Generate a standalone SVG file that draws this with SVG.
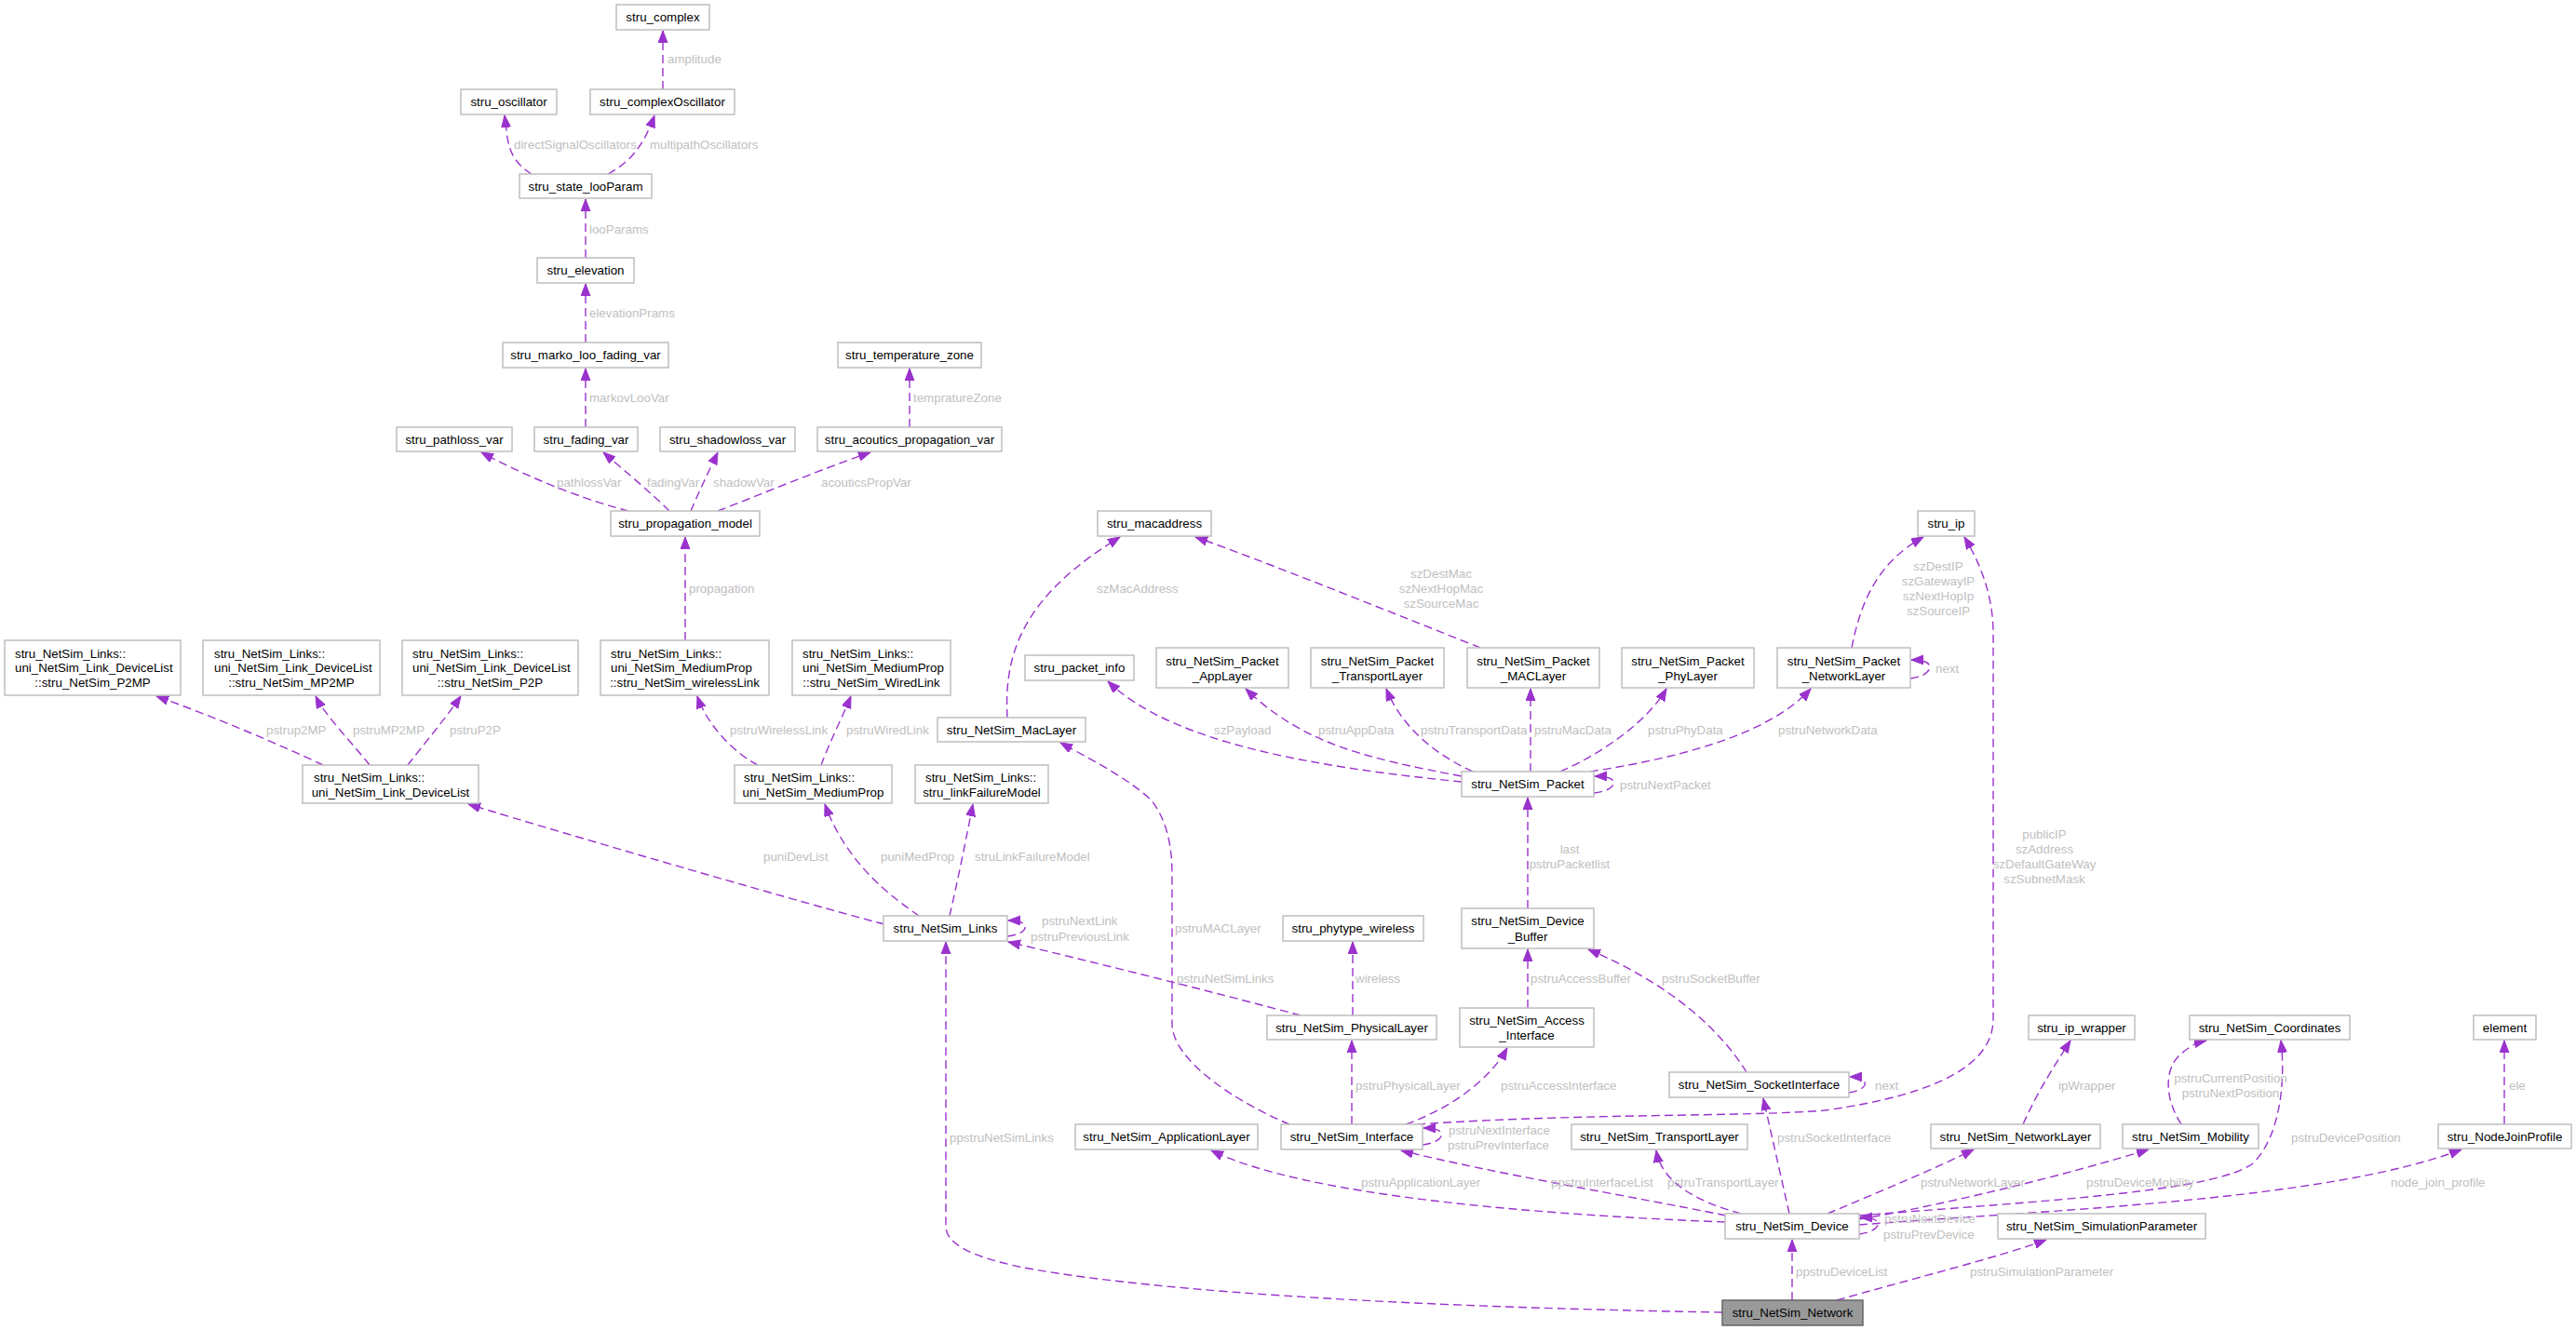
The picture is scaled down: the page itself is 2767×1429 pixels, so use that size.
<svg xmlns="http://www.w3.org/2000/svg" width="2767" height="1429" viewBox="0 0 2767 1429">
<style>
text{font-family:"Liberation Sans",Arial,sans-serif;font-size:13.33px}
.n rect{fill:#fff;stroke:#bfbfbf;stroke-width:1.5}
.n text{fill:#000}
.c{text-anchor:middle}
.r rect{fill:#999999;stroke:#666666;stroke-width:1.5}
.e path{fill:none;stroke:#9a32cd;stroke-width:1.4;stroke-dasharray:9,5;marker-end:url(#a)}
.l{fill:#c0c0c0}
</style>
<defs>
<marker id="a" markerUnits="userSpaceOnUse" markerWidth="14" markerHeight="11" refX="13" refY="5" orient="auto" viewBox="0 0 14 11">
<path d="M0,0 L13,5 L0,10 z" fill="#9a32cd" stroke="#9a32cd" stroke-width="1"/>
</marker>
</defs>
<rect width="2767" height="1429" fill="#fff"/>
<g id="edges" class="e">
<path d="M712,96 L712,33"/>
<path d="M571,187 C555,177 546,165 544,140 L542,124"/>
<path d="M653,187 C675,175 690,160 703,124"/>
<path d="M629,277 L629,214"/>
<path d="M629,368 L629,305"/>
<path d="M629,459 L629,396"/>
<path d="M977,459 L977,396"/>
<path d="M675,549 C640,540 580,520 517,486"/>
<path d="M719,549 C700,530 670,505 648,486"/>
<path d="M742,549 C750,530 762,505 771,486"/>
<path d="M771,549 C820,530 880,505 935,486"/>
<path d="M736,688 L736,577"/>
<path d="M814,822 C790,810 760,780 749,748"/>
<path d="M882,822 C890,800 905,770 914,748"/>
<path d="M347,822 C300,800 230,770 168,748"/>
<path d="M397,822 C380,800 350,770 339,748"/>
<path d="M438,822 C455,800 480,770 495,748"/>
<path d="M950,993 C880,975 620,900 503,864"/>
<path d="M987,984 C960,965 910,930 886,864"/>
<path d="M1020,984 C1028,950 1038,900 1045,864"/>
<path d="M1082,1006 C1098,1004 1104,998 1100,993 C1097,990 1092,989 1083,989"/>
<path d="M1397,1091 C1300,1065 1180,1035 1083,1012"/>
<path d="M1453,1091 L1453,1012"/>
<path d="M1385,1208 C1330,1185 1259,1140 1259,1100 L1259,940 C1259,905 1252,880 1237,860 C1210,835 1170,815 1139,798"/>
<path d="M1452,1208 L1452,1118"/>
<path d="M1510,1208 C1560,1190 1600,1160 1619,1126"/>
<path d="M1641,1083 L1641,1020"/>
<path d="M1641,976 L1641,857"/>
<path d="M1876,1152 C1850,1110 1800,1060 1706,1020"/>
<path d="M1986,1174 C2000,1172 2006,1166 2002,1161 C1999,1158 1994,1157 1987,1157"/>
<path d="M1528,1230 C1545,1228 1551,1221 1547,1216 C1544,1213 1538,1212 1529,1212"/>
<path d="M1522,1208 C1700,1196 1880,1200 1960,1193 C2090,1175 2141,1140 2141,1095 L2141,680 C2141,640 2127,605 2110,577"/>
<path d="M1570,840 C1420,825 1260,800 1190,732"/>
<path d="M1570,834 C1470,815 1400,800 1338,740"/>
<path d="M1582,829 C1540,810 1505,780 1489,740"/>
<path d="M1644,829 L1644,740"/>
<path d="M1676,829 C1720,810 1770,775 1790,740"/>
<path d="M1708,829 C1800,815 1900,790 1945,740"/>
<path d="M1712,852 C1730,850 1736,843 1732,838 C1729,835 1722,834 1713,834"/>
<path d="M2052,729 C2068,727 2075,720 2072,714 C2069,710 2062,709 2053,709"/>
<path d="M1989,696 C1998,650 2015,605 2066,577"/>
<path d="M1590,696 C1500,660 1350,600 1284,577"/>
<path d="M1082,771 C1078,700 1100,640 1203,577"/>
<path d="M1853,1313 C1650,1305 1400,1285 1301,1236"/>
<path d="M1854,1306 C1750,1285 1600,1260 1505,1236"/>
<path d="M1870,1304 C1820,1290 1785,1270 1779,1236"/>
<path d="M1922,1304 L1894,1180"/>
<path d="M1963,1304 C2020,1280 2080,1255 2120,1235"/>
<path d="M1997,1310 C2100,1292 2220,1262 2308,1235"/>
<path d="M1997,1306 C2200,1290 2380,1280 2420,1250 C2450,1220 2455,1160 2450,1118"/>
<path d="M1997,1316 C2200,1300 2500,1290 2644,1235"/>
<path d="M2343,1208 C2325,1180 2325,1150 2340,1135 C2350,1125 2360,1120 2370,1118"/>
<path d="M2173,1208 C2190,1170 2210,1140 2224,1118"/>
<path d="M2690,1208 L2690,1118"/>
<path d="M1997,1326 C2013,1324 2020,1317 2016,1312 C2013,1309 2006,1308 1998,1308"/>
<path d="M1925,1397 L1925,1332"/>
<path d="M1973,1397 C2050,1375 2150,1350 2198,1332"/>
<path d="M1850,1410 C1550,1405 1250,1390 1100,1362 C1040,1350 1016,1335 1016,1318 L1016,1012"/>
</g>
<g id="labels" class="l">
<text x="717" y="68">amplitude</text>
<text x="552" y="160">directSignalOscillators</text>
<text x="698" y="160">multipathOscillators</text>
<text x="633" y="251">looParams</text>
<text x="633" y="341">elevationPrams</text>
<text x="633" y="432">markovLooVar</text>
<text x="981" y="432">tempratureZone</text>
<text x="598" y="523">pathlossVar</text>
<text x="695" y="523">fadingVar</text>
<text x="766" y="523">shadowVar</text>
<text x="882" y="523">acouticsPropVar</text>
<text x="740" y="637">propagation</text>
<text x="784" y="789">pstruWirelessLink</text>
<text x="909" y="789">pstruWiredLink</text>
<text x="286" y="789">pstrup2MP</text>
<text x="379" y="789">pstruMP2MP</text>
<text x="483" y="789">pstruP2P</text>
<text x="820" y="925">puniDevList</text>
<text x="946" y="925">puniMedProp</text>
<text x="1047" y="925">struLinkFailureModel</text>
<text x="1119" y="994">pstruNextLink</text>
<text x="1107" y="1011">pstruPreviousLink</text>
<text x="1264" y="1056">pstruNetSimLinks</text>
<text x="1456" y="1056">wireless</text>
<text x="1262" y="1002">pstruMACLayer</text>
<text x="1456" y="1171">pstruPhysicalLayer</text>
<text x="1612" y="1171">pstruAccessInterface</text>
<text x="1644" y="1056">pstruAccessBuffer</text>
<text class="c" x="1686" y="917">last</text>
<text class="c" x="1686" y="933">pstruPacketlist</text>
<text x="1785" y="1056">pstruSocketBuffer</text>
<text x="2014" y="1171">next</text>
<text x="1556" y="1219">pstruNextInterface</text>
<text x="1555" y="1235">pstruPrevInterface</text>
<text class="c" x="2196" y="901">publicIP</text>
<text class="c" x="2196" y="917">szAddress</text>
<text class="c" x="2196" y="933">szDefaultGateWay</text>
<text class="c" x="2196" y="949">szSubnetMask</text>
<text x="1304" y="789">szPayload</text>
<text x="1416" y="789">pstruAppData</text>
<text x="1526" y="789">pstruTransportData</text>
<text x="1648" y="789">pstruMacData</text>
<text x="1770" y="789">pstruPhyData</text>
<text x="1910" y="789">pstruNetworkData</text>
<text x="1740" y="848">pstruNextPacket</text>
<text x="2079" y="723">next</text>
<text class="c" x="2082" y="613">szDestIP</text>
<text class="c" x="2082" y="629">szGatewayIP</text>
<text class="c" x="2082" y="645">szNextHopIp</text>
<text class="c" x="2082" y="661">szSourceIP</text>
<text class="c" x="1548" y="621">szDestMac</text>
<text class="c" x="1548" y="637">szNextHopMac</text>
<text class="c" x="1548" y="653">szSourceMac</text>
<text x="1178" y="637">szMacAddress</text>
<text x="1462" y="1275">pstruApplicationLayer</text>
<text x="1666" y="1275">ppstruInterfaceList</text>
<text x="1791" y="1275">pstruTransportLayer</text>
<text x="1909" y="1227">pstruSocketInterface</text>
<text x="2063" y="1275">pstruNetworkLayer</text>
<text x="2241" y="1275">pstruDeviceMobility</text>
<text x="2461" y="1227">pstruDevicePosition</text>
<text x="2568" y="1275">node_join_profile</text>
<text class="c" x="2396" y="1163">pstruCurrentPosition</text>
<text class="c" x="2396" y="1179">pstruNextPosition</text>
<text x="2211" y="1171">ipWrapper</text>
<text x="2695" y="1171">ele</text>
<text x="2024" y="1314">pstruNextDevice</text>
<text x="2023" y="1331">pstruPrevDevice</text>
<text x="1929" y="1371">ppstruDeviceList</text>
<text x="2116" y="1371">pstruSimulationParameter</text>
<text x="1020" y="1227">ppstruNetSimLinks</text>
</g>
<g id="n_complex" class="n"><rect x="662" y="5" width="100" height="27"/><text class="c" x="712" y="23">stru_complex</text></g>
<g id="n_oscillator" class="n"><rect x="495" y="96" width="103" height="27"/><text class="c" x="546.5" y="114">stru_oscillator</text></g>
<g id="n_complexOscillator" class="n"><rect x="634" y="96" width="155" height="27"/><text class="c" x="711.5" y="114">stru_complexOscillator</text></g>
<g id="n_state_looParam" class="n"><rect x="558" y="187" width="142" height="26"/><text class="c" x="629" y="205">stru_state_looParam</text></g>
<g id="n_elevation" class="n"><rect x="577" y="277" width="104" height="27"/><text class="c" x="629" y="295">stru_elevation</text></g>
<g id="n_marko" class="n"><rect x="540" y="368" width="178" height="27"/><text class="c" x="629" y="386">stru_marko_loo_fading_var</text></g>
<g id="n_temperature" class="n"><rect x="900" y="368" width="154" height="27"/><text class="c" x="977" y="386">stru_temperature_zone</text></g>
<g id="n_pathloss" class="n"><rect x="426" y="459" width="124" height="26"/><text class="c" x="488" y="477">stru_pathloss_var</text></g>
<g id="n_fading" class="n"><rect x="574" y="459" width="111" height="26"/><text class="c" x="629.5" y="477">stru_fading_var</text></g>
<g id="n_shadowloss" class="n"><rect x="709" y="459" width="145" height="26"/><text class="c" x="781.5" y="477">stru_shadowloss_var</text></g>
<g id="n_acoutics" class="n"><rect x="878" y="459" width="198" height="26"/><text class="c" x="977" y="477">stru_acoutics_propagation_var</text></g>
<g id="n_propagation" class="n"><rect x="656" y="549" width="160" height="27"/><text class="c" x="736" y="567">stru_propagation_model</text></g>
<g id="n_p2mp" class="n"><rect x="5" y="688" width="189" height="59"/><text x="16" y="707">stru_NetSim_Links::</text><text x="16" y="722">uni_NetSim_Link_DeviceList</text><text class="c" x="99.5" y="738">::stru_NetSim_P2MP</text></g>
<g id="n_mp2mp" class="n"><rect x="218" y="688" width="190" height="59"/><text x="230" y="707">stru_NetSim_Links::</text><text x="230" y="722">uni_NetSim_Link_DeviceList</text><text class="c" x="313" y="738">::stru_NetSim_MP2MP</text></g>
<g id="n_p2p" class="n"><rect x="432" y="688" width="189" height="59"/><text x="443" y="707">stru_NetSim_Links::</text><text x="443" y="722">uni_NetSim_Link_DeviceList</text><text class="c" x="526.5" y="738">::stru_NetSim_P2P</text></g>
<g id="n_wirelessLink" class="n"><rect x="645" y="688" width="181" height="59"/><text x="656" y="707">stru_NetSim_Links::</text><text x="656" y="722">uni_NetSim_MediumProp</text><text class="c" x="735.5" y="738">::stru_NetSim_wirelessLink</text></g>
<g id="n_wiredLink" class="n"><rect x="851" y="688" width="170" height="59"/><text x="862" y="707">stru_NetSim_Links::</text><text x="862" y="722">uni_NetSim_MediumProp</text><text class="c" x="936" y="738">::stru_NetSim_WiredLink</text></g>
<g id="n_deviceList" class="n"><rect x="325" y="822" width="189" height="41"/><text x="337" y="840">stru_NetSim_Links::</text><text class="c" x="419.5" y="856">uni_NetSim_Link_DeviceList</text></g>
<g id="n_mediumProp" class="n"><rect x="789" y="822" width="169" height="41"/><text x="799" y="840">stru_NetSim_Links::</text><text class="c" x="873.5" y="856">uni_NetSim_MediumProp</text></g>
<g id="n_linkFailure" class="n"><rect x="983" y="822" width="143" height="41"/><text x="994" y="840">stru_NetSim_Links::</text><text class="c" x="1054.5" y="856">stru_linkFailureModel</text></g>
<g id="n_macLayer" class="n"><rect x="1007" y="771" width="159" height="26"/><text class="c" x="1086.5" y="789">stru_NetSim_MacLayer</text></g>
<g id="n_macaddress" class="n"><rect x="1179" y="549" width="122" height="27"/><text class="c" x="1240" y="567">stru_macaddress</text></g>
<g id="n_packet_info" class="n"><rect x="1101" y="704" width="117" height="27"/><text class="c" x="1159.5" y="722">stru_packet_info</text></g>
<g id="n_pkt_app" class="n"><rect x="1242" y="696" width="142" height="43"/><text class="c" x="1313" y="715">stru_NetSim_Packet</text><text class="c" x="1313" y="731">_AppLayer</text></g>
<g id="n_pkt_transport" class="n"><rect x="1408" y="696" width="143" height="43"/><text class="c" x="1479.5" y="715">stru_NetSim_Packet</text><text class="c" x="1479.5" y="731">_TransportLayer</text></g>
<g id="n_pkt_mac" class="n"><rect x="1576" y="696" width="142" height="43"/><text class="c" x="1647" y="715">stru_NetSim_Packet</text><text class="c" x="1647" y="731">_MACLayer</text></g>
<g id="n_pkt_phy" class="n"><rect x="1742" y="696" width="142" height="43"/><text class="c" x="1813" y="715">stru_NetSim_Packet</text><text class="c" x="1813" y="731">_PhyLayer</text></g>
<g id="n_pkt_network" class="n"><rect x="1909" y="696" width="143" height="43"/><text class="c" x="1980.5" y="715">stru_NetSim_Packet</text><text class="c" x="1980.5" y="731">_NetworkLayer</text></g>
<g id="n_ip" class="n"><rect x="2060" y="549" width="61" height="27"/><text class="c" x="2090.5" y="567">stru_ip</text></g>
<g id="n_packet" class="n"><rect x="1570" y="829" width="142" height="27"/><text class="c" x="1641" y="847">stru_NetSim_Packet</text></g>
<g id="n_device_buffer" class="n"><rect x="1570" y="976" width="142" height="43"/><text class="c" x="1641" y="994">stru_NetSim_Device</text><text class="c" x="1641" y="1011">_Buffer</text></g>
<g id="n_links" class="n"><rect x="949" y="984" width="133" height="27"/><text class="c" x="1015.5" y="1002">stru_NetSim_Links</text></g>
<g id="n_phytype" class="n"><rect x="1378" y="984" width="151" height="27"/><text class="c" x="1453.5" y="1002">stru_phytype_wireless</text></g>
<g id="n_physical" class="n"><rect x="1361" y="1091" width="182" height="26"/><text class="c" x="1452" y="1109">stru_NetSim_PhysicalLayer</text></g>
<g id="n_access" class="n"><rect x="1568" y="1083" width="144" height="42"/><text class="c" x="1640" y="1101">stru_NetSim_Access</text><text class="c" x="1640" y="1117">_Interface</text></g>
<g id="n_socket" class="n"><rect x="1793" y="1152" width="193" height="27"/><text class="c" x="1889.5" y="1170">stru_NetSim_SocketInterface</text></g>
<g id="n_ip_wrapper" class="n"><rect x="2179" y="1091" width="114" height="26"/><text class="c" x="2236" y="1109">stru_ip_wrapper</text></g>
<g id="n_coordinates" class="n"><rect x="2352" y="1091" width="172" height="26"/><text class="c" x="2438" y="1109">stru_NetSim_Coordinates</text></g>
<g id="n_element" class="n"><rect x="2657" y="1091" width="67" height="26"/><text class="c" x="2690.5" y="1109">element</text></g>
<g id="n_application" class="n"><rect x="1155" y="1208" width="196" height="27"/><text class="c" x="1253" y="1226">stru_NetSim_ApplicationLayer</text></g>
<g id="n_interface" class="n"><rect x="1376" y="1208" width="152" height="27"/><text class="c" x="1452" y="1226">stru_NetSim_Interface</text></g>
<g id="n_transport" class="n"><rect x="1688" y="1208" width="189" height="27"/><text class="c" x="1782.5" y="1226">stru_NetSim_TransportLayer</text></g>
<g id="n_network_layer" class="n"><rect x="2074" y="1208" width="182" height="26"/><text class="c" x="2165" y="1226">stru_NetSim_NetworkLayer</text></g>
<g id="n_mobility" class="n"><rect x="2280" y="1208" width="146" height="26"/><text class="c" x="2353" y="1226">stru_NetSim_Mobility</text></g>
<g id="n_nodejoin" class="n"><rect x="2619" y="1208" width="143" height="26"/><text class="c" x="2690.5" y="1226">stru_NodeJoinProfile</text></g>
<g id="n_device" class="n"><rect x="1853" y="1304" width="144" height="27"/><text class="c" x="1925" y="1322">stru_NetSim_Device</text></g>
<g id="n_simparam" class="n"><rect x="2146" y="1304" width="223" height="27"/><text class="c" x="2257.5" y="1322">stru_NetSim_SimulationParameter</text></g>
<g id="n_network" class="r"><rect x="1850" y="1397" width="151" height="27"/><text class="c" x="1925.5" y="1415">stru_NetSim_Network</text></g>
</svg>
